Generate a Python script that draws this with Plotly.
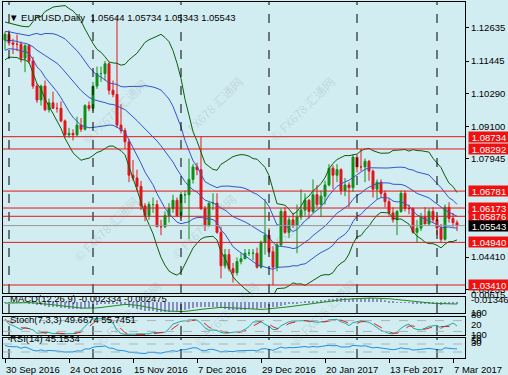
import numpy as np
import pandas as pd
import plotly.graph_objects as go

# ---------------- data ----------------
chart_title = "\u25BC EURUSD,Daily\u00a0\u00a01.05644 1.05734 1.05343 1.05543"

bar_dates = pd.bdate_range("2016-09-30", "2017-03-08")

opens = [1.1220,1.1241,1.1210,1.1205,1.1205,1.1155,1.1200,1.1145,1.1055,1.1005,
         1.1055,1.0970,1.0995,1.0975,1.0975,1.0930,1.0880,1.0885,1.0880,1.0915,
         1.0900,1.0985,1.0975,1.1055,1.1100,1.1100,1.1135,1.1040,1.1025,1.0915,
         1.0895,1.0855,1.0735,1.0725,1.0695,1.0625,1.0590,1.0630,1.0630,1.0550,
         1.0550,1.0590,1.0615,1.0645,1.0590,1.0665,1.0665,1.0720,1.0765,1.0755,
         1.0615,1.0555,1.0635,1.0635,1.0530,1.0410,1.0450,1.0400,1.0385,1.0425,
         1.0435,1.0455,1.0455,1.0455,1.0405,1.0495,1.0520,1.0460,1.0405,1.0485,
         1.0605,1.0530,1.0575,1.0555,1.0585,1.0610,1.0645,1.0605,1.0665,1.0630,
         1.0660,1.0700,1.0760,1.0735,1.0755,1.0680,1.0700,1.0690,1.0800,1.0765,
         1.0765,1.0785,1.0750,1.0685,1.0710,1.0670,1.0640,1.0600,1.0575,1.0605,
         1.0670,1.0615,1.0615,1.0530,1.0545,1.0585,1.0560,1.0605,1.0575,1.0545,
         1.0505,1.0620,1.0580,1.05644]
highs = [1.1250,1.1255,1.1225,1.1240,1.1215,1.1205,1.1205,1.1160,1.1065,1.1060,
         1.1075,1.1010,1.1035,1.0995,1.1000,1.0935,1.0905,1.0900,1.0945,1.0940,
         1.0990,1.1000,1.1070,1.1125,1.1125,1.1145,1.1140,1.1075,1.1300,1.0990,
         1.0905,1.0865,1.0790,1.0755,1.0715,1.0635,1.0640,1.0655,1.0645,1.0575,
         1.0605,1.0635,1.0665,1.0655,1.0675,1.0680,1.0795,1.0775,1.0780,1.0874,
         1.0625,1.0635,1.0670,1.0670,1.0550,1.0470,1.0470,1.0420,1.0440,1.0455,
         1.0470,1.0470,1.0470,1.0475,1.0500,1.0650,1.0545,1.0480,1.0495,1.0615,
         1.0620,1.0585,1.0600,1.0630,1.0685,1.0670,1.0650,1.0720,1.0700,1.0680,
         1.0715,1.0775,1.0770,1.0775,1.0760,1.0725,1.0710,1.0810,1.0810,1.0829,
         1.0795,1.0790,1.0755,1.0720,1.0720,1.0680,1.0650,1.0620,1.0610,1.0680,
         1.0680,1.0630,1.0620,1.0575,1.0600,1.0620,1.0615,1.0620,1.0590,1.0560,
         1.0630,1.0638,1.0600,1.05734]
lows = [1.1185,1.1200,1.1170,1.1180,1.1140,1.1105,1.1135,1.1045,1.0995,1.0985,
        1.0965,1.0960,1.0975,1.0960,1.0925,1.0870,1.0870,1.0860,1.0875,1.0890,
        1.0895,1.0965,1.0965,1.1045,1.1070,1.1075,1.1025,1.1015,1.0905,1.0885,
        1.0830,1.0710,1.0715,1.0680,1.0610,1.0570,1.0575,1.0600,1.0550,1.0520,
        1.0545,1.0565,1.0600,1.0590,1.0580,1.0635,1.0505,1.0705,1.0735,1.0610,
        1.0535,1.0550,1.0610,1.0525,1.0365,1.0400,1.0390,1.0350,1.0375,1.0415,
        1.0435,1.0445,1.0430,1.0400,1.0400,1.0450,1.0455,1.0340,1.0390,1.0480,
        1.0525,1.0510,1.0545,1.0455,1.0575,1.0590,1.0580,1.0600,1.0620,1.0585,
        1.0630,1.0695,1.0685,1.0710,1.0665,1.0660,1.0620,1.0675,1.0745,1.0750,
        1.0710,1.0715,1.0655,1.0650,1.0655,1.0620,1.0590,1.0565,1.0520,1.0600,
        1.0605,1.0595,1.0525,1.0494,1.0535,1.0560,1.0555,1.0565,1.0520,1.0494,
        1.0500,1.0565,1.0550,1.05343]
closes = [1.1241,1.1210,1.1205,1.1205,1.1155,1.1200,1.1145,1.1055,1.1005,1.1055,
          1.0970,1.0995,1.0975,1.0975,1.0930,1.0880,1.0885,1.0880,1.0915,1.0900,
          1.0985,1.0975,1.1055,1.1100,1.1100,1.1135,1.1040,1.1025,1.0915,1.0895,
          1.0855,1.0735,1.0725,1.0695,1.0625,1.0590,1.0630,1.0630,1.0550,1.0550,
          1.0590,1.0615,1.0645,1.0590,1.0665,1.0665,1.0720,1.0765,1.0755,1.0615,
          1.0555,1.0635,1.0635,1.0530,1.0410,1.0450,1.0400,1.0385,1.0425,1.0435,
          1.0455,1.0455,1.0455,1.0405,1.0495,1.0520,1.0460,1.0405,1.0485,1.0605,
          1.0530,1.0575,1.0555,1.0585,1.0610,1.0645,1.0605,1.0665,1.0630,1.0660,
          1.0700,1.0760,1.0735,1.0755,1.0680,1.0700,1.0690,1.0800,1.0765,1.0765,
          1.0785,1.0750,1.0685,1.0710,1.0670,1.0640,1.0600,1.0575,1.0605,1.0670,
          1.0615,1.0615,1.0530,1.0545,1.0585,1.0560,1.0605,1.0575,1.0545,1.0505,
          1.0620,1.0580,1.0565,1.05543]
# closes before the visible window (Aug 17 - Sep 29 2016), used for indicator warm-up
warmup_closes = [1.1290,1.1350,1.1325,1.1320,1.1305,1.1265,1.1285,1.1200,1.1195,1.1145,1.1160,
                 1.1195,1.1155,1.1150,1.1255,1.1240,1.1260,1.1230,1.1240,1.1220,1.1245,
                 1.1240,1.1155,1.1170,1.1155,1.1190,1.1210,1.1225,1.1255,1.1215,1.1220,1.1220]

level_values = [1.05876, 1.08734, 1.08292, 1.06781, 1.06173, 1.04940, 1.03410]
last_price = 1.05543
price_ticks = [1.12635, 1.11445, 1.10290, 1.09100, 1.07945, 1.04410, 1.03233]

date_tick_index = [0, 16, 32, 48, 64, 80, 96, 112]
date_tick_labels = ["30 Sep 2016", "24 Oct 2016", "15 Nov 2016", "7 Dec 2016",
                    "29 Dec 2016", "20 Jan 2017", "13 Feb 2017", "7 Mar 2017"]

macd_text = "MACD(12,26,9) -0.002334 -0.002475"
stoch_text = "Stoch(7,3,3) 49.6674 55.7451"
rsi_text = "RSI(14) 45.1534"
macd_scale = [-0.013469, 0.00615]
watermark = "\u00a9 FX678 \u6c47\u901a\u7f51"

# ---------------- indicators ----------------
n = len(closes)
idx = np.arange(n)
o = pd.Series(opens); h = pd.Series(highs); l = pd.Series(lows); c = pd.Series(closes)
call = pd.Series(warmup_closes + closes)
w = len(warmup_closes)

ma = call.rolling(20).mean()
sd = call.rolling(20).std(ddof=0)
bb_mid = ma.iloc[w:].values
bb_up2 = (ma + 2 * sd).iloc[w:].values
bb_dn2 = (ma - 2 * sd).iloc[w:].values
bb_up1 = (ma + sd).iloc[w:].values
bb_dn1 = (ma - sd).iloc[w:].values

ema12 = call.ewm(span=12, adjust=False).mean()
ema26 = call.ewm(span=26, adjust=False).mean()
macd = ema12 - ema26
sig = macd.rolling(9).mean()
macd_v = macd.iloc[w:].values
sig_v = sig.iloc[w:].values

ll = l.rolling(7, min_periods=1).min()
hh = h.rolling(7, min_periods=1).max()
num = (c - ll).rolling(3, min_periods=1).sum()
den = (hh - ll).rolling(3, min_periods=1).sum()
stk = 100 * num / den
std_ = stk.rolling(3, min_periods=1).mean()

d = call.diff()
gain = d.clip(lower=0).ewm(alpha=1 / 14, adjust=False).mean()
loss = (-d.clip(upper=0)).ewm(alpha=1 / 14, adjust=False).mean()
rsi = (100 - 100 / (1 + gain / loss)).iloc[w:].values

month_starts = [i for i in range(1, n) if bar_dates[i].month != bar_dates[i - 1].month]

# ---------------- figure ----------------
BG = "#D2EDF1"
FONT = "Liberation Sans, Arial, sans-serif"
GREEN = "#0E8F16"
RED = "#E3141B"
BAND_G = "#0B5E0B"
BAND_B = "#3355CC"

def py(p):
    return (358 - p) / 356.0

fig = go.Figure()
fig.add_trace(go.Candlestick(
    x=idx, open=opens, high=highs, low=lows, close=closes,
    increasing=dict(line=dict(color=GREEN, width=1), fillcolor=GREEN),
    decreasing=dict(line=dict(color=RED, width=1), fillcolor=RED),
    whiskerwidth=0, xaxis="x", yaxis="y", hoverinfo="skip"))
for arr, col in [(bb_up2, BAND_G), (bb_dn2, BAND_G), (bb_up1, BAND_B), (bb_mid, BAND_B), (bb_dn1, BAND_B)]:
    fig.add_trace(go.Scatter(x=idx, y=arr, mode="lines", line=dict(color=col, width=1),
                             xaxis="x", yaxis="y", hoverinfo="skip"))

fig.add_trace(go.Bar(x=idx, y=macd_v, width=0.3, marker=dict(color="#8C8CC4", line=dict(width=0)),
                     xaxis="x2", yaxis="y2", hoverinfo="skip"))
fig.add_trace(go.Scatter(x=idx, y=sig_v, mode="lines", line=dict(color="#1E8C1E", width=1),
                         xaxis="x2", yaxis="y2", hoverinfo="skip"))

fig.add_trace(go.Scatter(x=idx, y=stk, mode="lines", line=dict(color="#20A8A0", width=1),
                         xaxis="x3", yaxis="y3", hoverinfo="skip"))
fig.add_trace(go.Scatter(x=idx, y=std_, mode="lines", line=dict(color="#E02020", width=1, dash="dash"),
                         xaxis="x3", yaxis="y3", hoverinfo="skip"))

fig.add_trace(go.Scatter(x=idx, y=rsi, mode="lines", line=dict(color="#1E8FE8", width=1),
                         xaxis="x4", yaxis="y4", hoverinfo="skip"))

xbase = dict(range=[-0.5, 115], showgrid=False, zeroline=False, showline=True, mirror=True,
             linecolor="black", linewidth=1, showticklabels=False, ticks="", fixedrange=True,
             automargin=False)
ybase = dict(showgrid=False, zeroline=False, showline=True, mirror=True, linecolor="black",
             linewidth=1, side="right", showticklabels=False, ticks="", fixedrange=True,
             automargin=False)

fig.update_layout(
    width=508, height=375, margin=dict(l=3, r=43, t=2, b=17),
    paper_bgcolor=BG, plot_bgcolor=BG, showlegend=False,
    font=dict(family=FONT, size=9.5, color="black"),
    xaxis=dict(xbase, anchor="y", rangeslider=dict(visible=False)),
    xaxis2=dict(xbase, anchor="y2", matches="x"),
    xaxis3=dict(xbase, anchor="y3", matches="x"),
    xaxis4=dict(xbase, anchor="y4", matches="x", ticks="outside", ticklen=4, tickcolor="black",
                tickvals=date_tick_index),
    yaxis=dict(ybase, anchor="x", domain=[py(293), 1.0], range=[1.03123, 1.13568],
               showticklabels=True, ticks="outside", ticklen=3, tickcolor="black",
               tickvals=price_ticks, tickformat=".5f", tickfont=dict(size=9.5, family=FONT)),
    yaxis2=dict(ybase, anchor="x2", domain=[py(313), py(297)], range=macd_scale),
    yaxis3=dict(ybase, anchor="x3", domain=[py(335), py(317)], range=[0, 100]),
    yaxis4=dict(ybase, anchor="x4", domain=[0.0, py(338)], range=[0, 100]),
    bargap=0,
)

shapes = []
# month separators
for ms in month_starts:
    for yr in ["y domain", "y2 domain", "y3 domain", "y4 domain"]:
        shapes.append(dict(type="line", xref="x", yref=yr, x0=ms, x1=ms, y0=0, y1=1,
                           line=dict(color="black", width=1, dash="dash"), layer="above"))
# levels
for lv in level_values:
    shapes.append(dict(type="line", xref="x domain", yref="y", x0=0, x1=1, y0=lv, y1=lv,
                       line=dict(color="#E01818", width=1)))
shapes.append(dict(type="line", xref="x domain", yref="y", x0=0, x1=1, y0=last_price, y1=last_price,
                   line=dict(color="#9A9A9A", width=1)))
for lv, yr in [(20, "y3"), (80, "y3"), (30, "y4"), (70, "y4")]:
    shapes.append(dict(type="line", xref="x domain", yref=yr, x0=0, x1=1, y0=lv, y1=lv,
                       line=dict(color="#A8B4B8", width=1, dash="dash")))
fig.update_layout(shapes=shapes)

ann = []
# watermarks
for (wx, wy) in [(80, 72), (228, 70), (372, 70), (70, 228), (220, 226), (368, 222),
                 (95, 352), (245, 352), (395, 350)]:
    ann.append(dict(x=wx / 508.0, y=py(wy), xref="paper", yref="paper", text=watermark,
                    showarrow=False, textangle=-45,
                    font=dict(family="Noto Sans CJK SC", size=12, color="rgba(120,135,140,0.22)")))
# level boxes
for lv in level_values:
    ann.append(dict(x=1, xref="paper", y=lv, yref="y", xanchor="left", xshift=3,
                    text=f"{lv:.5f}", showarrow=False, bgcolor="#F01010", borderpad=0,
                    width=40, height=10, font=dict(color="white", size=9.5, family=FONT)))
ann.append(dict(x=1, xref="paper", y=last_price, yref="y", xanchor="left", xshift=3,
                text=f"{last_price:.5f}", showarrow=False, bgcolor="black", borderpad=0,
                width=40, height=10, font=dict(color="white", size=9.5, family=FONT)))
# title and indicator labels
ann.append(dict(x=0, xref="paper", y=py(10), yref="paper", xanchor="left", xshift=4,
                text=chart_title, showarrow=False, font=dict(size=9.5, family=FONT)))
for t, p in [(macd_text, 305.5), (stoch_text, 326.5), (rsi_text, 346)]:
    ann.append(dict(x=0, xref="paper", y=py(p), yref="paper", xanchor="left", xshift=5,
                    text=t, showarrow=False, font=dict(size=9.5, family=FONT)))
# indicator scale labels
for t, p in [("0.00615", 301.5), ("-0.013469", 307), ("100", 320), ("80", 322), ("20", 332),
             ("100", 342), ("70", 344.5), ("50", 347.5), ("30", 350)]:
    ann.append(dict(x=1, xref="paper", y=py(p), yref="paper", xanchor="left", xshift=4,
                    text=t, showarrow=False, font=dict(size=9.5, family=FONT)))
# date labels
for i, t in zip(date_tick_index, date_tick_labels):
    ann.append(dict(x=i, xref="x4", y=0, yref="paper", xanchor="left", yanchor="top",
                    xshift=-1, yshift=-4, text=t, showarrow=False, font=dict(size=9.5, family=FONT)))
fig.update_layout(annotations=ann)

fig.write_html("out.html")
